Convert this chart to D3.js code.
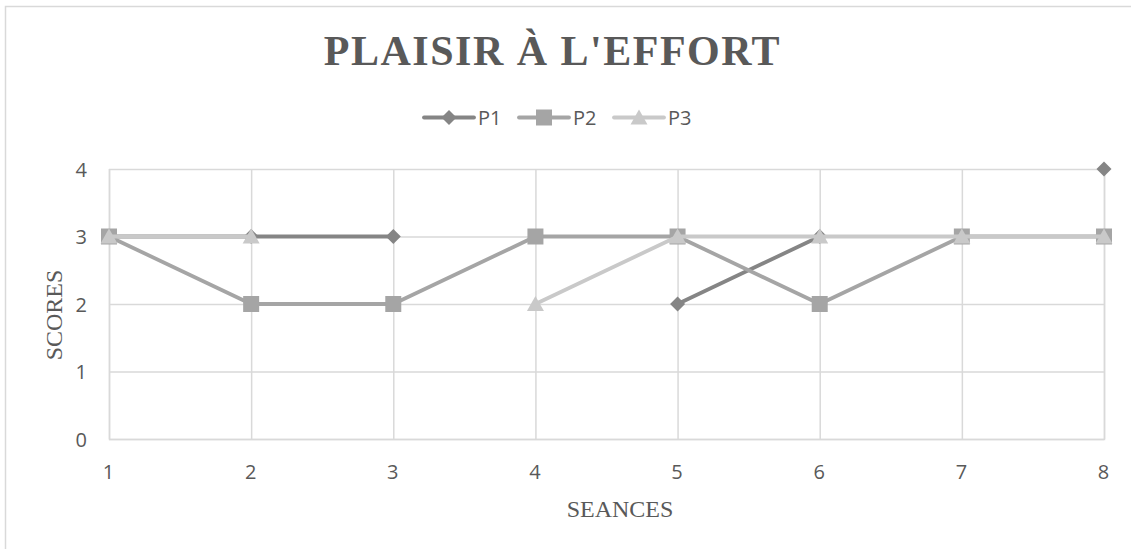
<!DOCTYPE html>
<html><head><meta charset="utf-8">
<script src="https://cdn.jsdelivr.net/npm/d3@7/dist/d3.min.js"></script>
<style>html,body{margin:0;padding:0;background:#fff;}svg{display:block;}</style>
</head><body>
<svg id="chart" width="1131" height="549"></svg>
<script>
const seances = [1, 2, 3, 4, 5, 6, 7, 8];
const p1 = [3, 3, 3, null, 2, 3, null, 4];
const p2 = [3, 2, 2, 3, 3, 2, 3, 3];
const p3 = [3, 3, null, 2, 3, 3, 3, 3];
const seriesNames = ["P1", "P2", "P3"];
const yTicks = [0, 1, 2, 3, 4];
const title = "PLAISIR À L'EFFORT";
const xTitle = "SEANCES";
const yTitle = "SCORES";

const colors = {P1: "#858585", P2: "#a5a5a5", P3: "#c9c9c9"};
const markers = {P1: "diamond", P2: "square", P3: "triangle"};
const series = [
  {name: "P1", values: p1},
  {name: "P2", values: p2},
  {name: "P3", values: p3}
];

const svg = d3.select("#chart");
const m = {left: 109, right: 1104, top: 169, bottom: 439};
const sans = "'Open Sans', sans-serif";
const serif = "'Liberation Serif', 'Times New Roman', serif";

// outer border
svg.append("rect").attr("x", 5.5).attr("y", 6.5).attr("width", 1140).attr("height", 560)
  .attr("fill", "none").attr("stroke", "#d9d9d9").attr("stroke-width", 1.5);

const x = d3.scaleLinear().domain([1, 8]).range([m.left, m.right]);
const y = d3.scaleLinear().domain([0, 4]).range([m.bottom, m.top]);

// grid
const gy = svg.append("g").attr("transform", `translate(${m.left},0)`)
  .call(d3.axisLeft(y).tickValues(yTicks).tickSize(-(m.right - m.left)).tickFormat(""));
gy.select(".domain").remove();
gy.selectAll(".tick line").attr("stroke", "#d9d9d9").attr("stroke-width", 1.5);

const gx = svg.append("g").attr("transform", `translate(0,${m.bottom})`)
  .call(d3.axisBottom(x).tickValues(seances).tickSize(-(m.bottom - m.top)).tickFormat(""));
gx.select(".domain").attr("stroke", "#d9d9d9").attr("stroke-width", 1.5);
gx.selectAll(".tick line").attr("stroke", "#d9d9d9").attr("stroke-width", 1.5);

// tick labels
const yl = svg.append("g").attr("transform", `translate(${m.left - 22},0)`)
  .call(d3.axisLeft(y).tickValues(yTicks).tickSize(0).tickPadding(0).tickFormat(d3.format("d")));
yl.select(".domain").remove();
yl.selectAll("text").attr("font-family", sans).attr("font-size", 20).attr("fill", "#595959").attr("dy", "0.36em");

const xl = svg.append("g").attr("transform", `translate(-1,${m.bottom + 26})`)
  .call(d3.axisBottom(x).tickValues(seances).tickSize(0).tickPadding(0).tickFormat(d3.format("d")));
xl.select(".domain").remove();
xl.selectAll("text").attr("font-family", sans).attr("font-size", 20).attr("fill", "#595959").attr("dy", "0.71em");

// titles
svg.append("text").attr("x", 552.5).attr("y", 65).attr("text-anchor", "middle")
  .attr("font-family", serif).attr("font-weight", "bold")
  .attr("font-size", 42).attr("letter-spacing", 1.5).attr("fill", "#595959").text(title);

svg.append("text").attr("x", 620).attr("y", 517).attr("text-anchor", "middle")
  .attr("font-family", serif).attr("font-size", 24).attr("fill", "#595959").text(xTitle);

svg.append("text").attr("transform", "translate(62,315) rotate(-90)").attr("text-anchor", "middle")
  .attr("font-family", serif).attr("font-size", 24).attr("fill", "#595959").text(yTitle);

function markerPath(type) {
  if (type === "diamond") return "M0,-7.5L7.5,0L0,7.5L-7.5,0Z";
  if (type === "square") return "M-8,-8H8V8H-8Z";
  return "M0,-8L8.5,7H-8.5Z";
}

const line = d3.line().defined(d => d.v !== null).x(d => x(d.s)).y(d => y(d.v));

series.forEach(s => {
  const pts = s.values.map((v, i) => ({s: seances[i], v}));
  const g = svg.append("g");
  g.append("path").datum(pts).attr("d", line).attr("fill", "none")
    .attr("stroke", colors[s.name]).attr("stroke-width", 3.8).attr("stroke-linejoin", "round").attr("stroke-linecap", "round");
  g.selectAll("path.mk").data(pts.filter(d => d.v !== null)).enter().append("path").attr("class", "mk")
    .attr("transform", d => `translate(${x(d.s)},${y(d.v)})`)
    .attr("d", markerPath(markers[s.name])).attr("fill", colors[s.name]);
});

// legend
const legX = [424, 519, 614];
seriesNames.forEach((n, i) => {
  const g = svg.append("g").attr("transform", `translate(${legX[i]},117.5)`);
  g.append("line").attr("x1", 0).attr("x2", 50).attr("y1", 0).attr("y2", 0)
    .attr("stroke", colors[n]).attr("stroke-width", 3.8).attr("stroke-linecap", "round");
  g.append("path").attr("transform", "translate(25,0)").attr("d", markerPath(markers[n])).attr("fill", colors[n]);
  g.append("text").attr("x", 54).attr("y", 7.5).attr("font-family", sans)
    .attr("font-size", 20).attr("fill", "#595959").text(n);
});
</script>
</body></html>
